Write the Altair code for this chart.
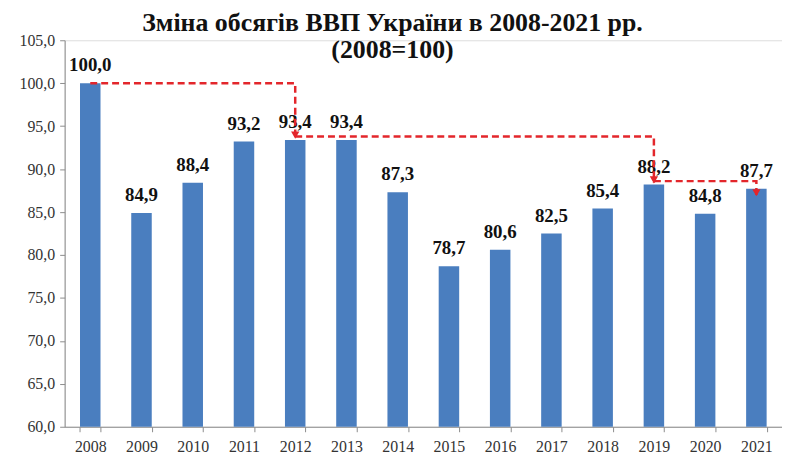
import altair as alt
import pandas as pd

years = [2008, 2009, 2010, 2011, 2012, 2013, 2014, 2015, 2016, 2017, 2018, 2019, 2020, 2021]
gdp_index = [100.0, 84.9, 88.4, 93.2, 93.4, 93.4, 87.3, 78.7, 80.6, 82.5, 85.4, 88.2, 84.8, 87.7]

# dashed arrow paths (year, level)
path_id = [1, 1, 1, 2, 2, 2, 3, 3, 3]
path_step = [1, 2, 3, 1, 2, 3, 1, 2, 3]
path_year = [2008, 2012, 2012, 2012, 2019, 2019, 2019, 2021, 2021]
path_level = [100.0, 100.0, 93.6, 93.8, 93.8, 88.4, 88.6, 88.6, 86.9]

arrow_year = [2012, 2019, 2021]
arrow_tip = [93.6, 88.4, 86.9]

year_str = [str(y) for y in years]
df = pd.DataFrame({"year": year_str, "v": gdp_index})
paths = pd.DataFrame({"pid": path_id, "step": path_step,
                      "year": [str(y) for y in path_year], "v": path_level})
arrows = pd.DataFrame({"year": [str(y) for y in arrow_year], "v": arrow_tip})

FONT = "'Liberation Serif', 'Times New Roman', serif"
RED = "#e3262b"

x_enc = alt.X("year:O", title=None, sort=year_str,
              scale=alt.Scale(paddingInner=0.6, paddingOuter=0.3),
              axis=alt.Axis(labelAngle=0, tickBand="extent", labelFont=FONT, labelFontSize=16,
                            labelColor="#333333", domainColor="#8c8c8c", tickColor="#8c8c8c",
                            tickSize=5, labelPadding=7))
y_enc = alt.Y("v:Q", title=None,
              scale=alt.Scale(domain=[60, 105], nice=False, zero=False),
              axis=alt.Axis(values=[60, 65, 70, 75, 80, 85, 90, 95, 100, 105], grid=False,
                            labelExpr="replace(format(datum.value, '.1f'), '.', ',')",
                            labelFont=FONT, labelFontSize=16, labelColor="#333333",
                            domainColor="#8c8c8c", tickColor="#8c8c8c", tickSize=5,
                            labelPadding=5))

bars = alt.Chart(df).mark_bar(color="#4a7ebf", clip=True).encode(x=x_enc, y=y_enc)

labels = alt.Chart(df).transform_calculate(
    lab="replace(format(datum.v, '.1f'), '.', ',')"
).mark_text(font=FONT, fontSize=19, fontWeight="bold", color="#111111",
            baseline="bottom", dy=-8).encode(
    x=alt.X("year:O", sort=year_str), y="v:Q", text="lab:N")

lines = alt.Chart(paths).mark_line(color=RED, strokeWidth=2.5, strokeDash=[7, 4]).encode(
    x=alt.X("year:O", sort=year_str), y="v:Q",
    detail="pid:N", order="step:Q")

heads = alt.Chart(arrows).mark_point(shape="triangle-down", filled=True, color=RED,
                                     opacity=1, size=70, yOffset=-3).encode(
    x=alt.X("year:O", sort=year_str), y="v:Q")

chart = alt.layer(bars, labels, lines, heads).properties(
    width=722, height=389,
    title=alt.TitleParams(["Зміна обсягів ВВП України в 2008-2021 рр.", "(2008=100)"],
                          font=FONT, fontSize=26, fontWeight="bold", color="#111111",
                          anchor="middle", dx=-31, dy=35, lineHeight=27),
    autosize=alt.AutoSizeParams(type="none"),
    padding={"left": 57, "top": 31, "right": 0, "bottom": 34},
).configure_view(stroke=None).configure(background="white")

chart.save("out.html", embed_options={"renderer": "svg", "actions": False})
